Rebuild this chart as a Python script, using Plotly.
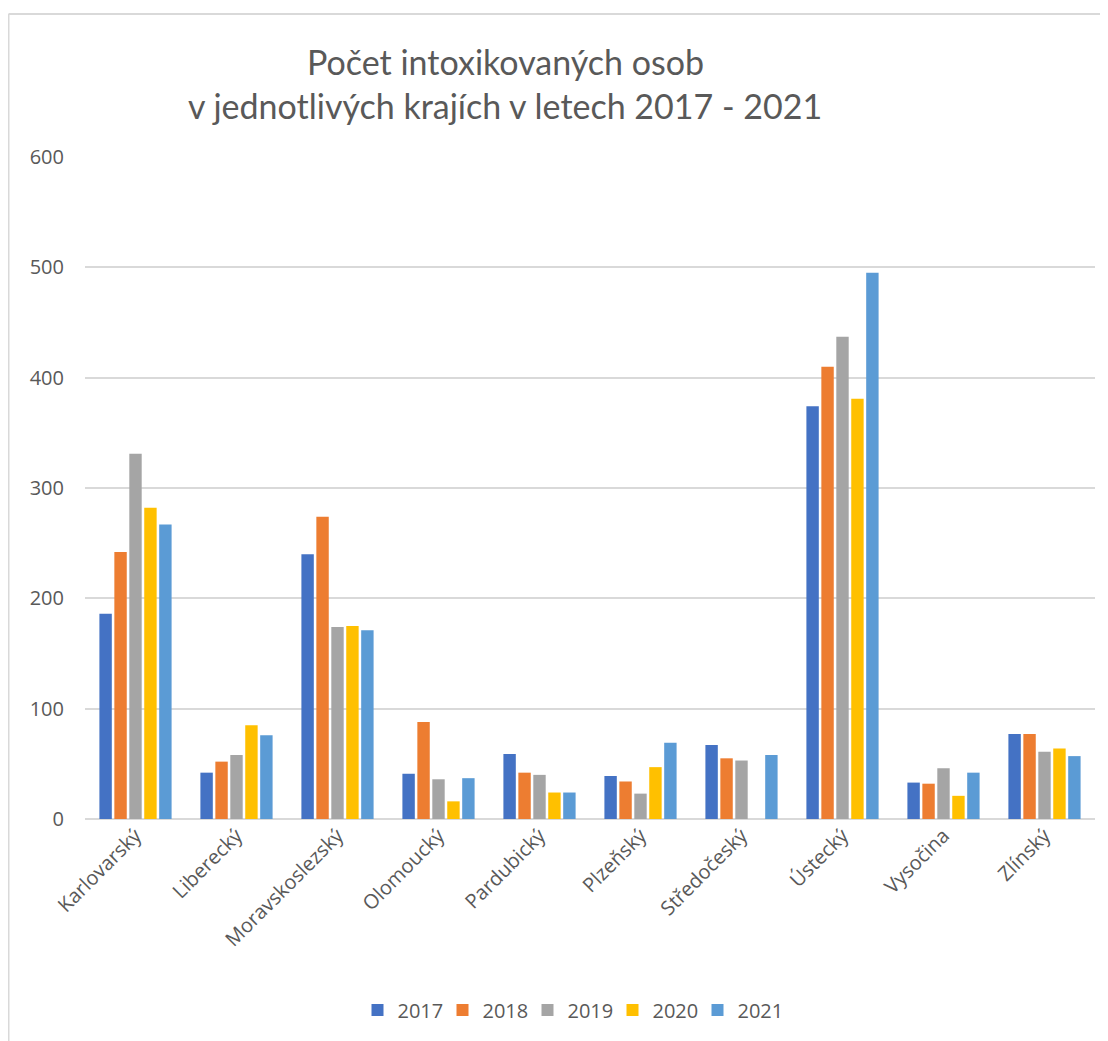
import plotly.graph_objects as go

categories = ["Karlovarský", "Liberecký", "Moravskoslezský", "Olomoucký", "Pardubický",
              "Plzeňský", "Středočeský", "Ústecký", "Vysočina", "Zlínský"]
years = ["2017", "2018", "2019", "2020", "2021"]
v2017 = [186, 42, 240, 41, 59, 39, 67, 374, 33, 77]
v2018 = [242, 52, 274, 88, 42, 34, 55, 410, 32, 77]
v2019 = [331, 58, 174, 36, 40, 23, 53, 437, 46, 61]
v2020 = [282, 85, 175, 16, 24, 47, 0, 381, 21, 64]
v2021 = [267, 76, 171, 37, 24, 69, 58, 495, 42, 57]
colors = ["#4472C4", "#ED7D31", "#A5A5A5", "#FFC000", "#5B9BD5"]
title_lines = ["Počet intoxikovaných osob", "v jednotlivých krajích v letech 2017 - 2021"]

series = [v2017, v2018, v2019, v2020, v2021]

fig = go.Figure()
for name, vals, col in zip(years, series, colors):
    fig.add_trace(go.Bar(x=categories, y=vals, name=name, marker=dict(color=col, line=dict(width=0))))

OFF = 8  # page body offset
W, H = 1108 - OFF, 1041 - OFF
# target pixel coords in the window
PL, PR, PT, PB = 85, 1095, 157, 819
L, R, T, B = PL - OFF, 1108 - PR, PT - OFF, 1041 - PB
pw, ph = PR - PL, PB - PT

def px2paper_x(px):
    return (px - PL) / pw

def py2paper_y(py):
    return (PB - py) / ph

fig.update_layout(
    width=W, height=H,
    margin=dict(l=L, r=R, t=T, b=B),
    paper_bgcolor="white", plot_bgcolor="white",
    barmode="group", bargap=0.26, bargroupgap=0.17,
    font=dict(family="Open Sans", color="#595959"),
    showlegend=True,
    legend=dict(orientation="h", x=px2paper_x(570), xanchor="center", y=py2paper_y(1010), yanchor="middle",
                font=dict(size=20, color="#595959"), traceorder="normal",
                entrywidth=40, entrywidthmode="pixels"),
    xaxis=dict(tickangle=-45, tickfont=dict(size=20, color="#595959"), showgrid=False,
               showline=False, ticks="", zeroline=False),
    yaxis=dict(range=[0, 600], dtick=100, tickfont=dict(size=20, color="#595959"),
               gridcolor="#d9d9d9", gridwidth=1.5, zeroline=True, zerolinecolor="#d9d9d9",
               zerolinewidth=1.5, showline=False, ticks="", ticklabelstandoff=20),
)

title_y = [62, 105]
for txt, yy in zip(title_lines, title_y):
    fig.add_annotation(text=txt, xref="paper", yref="paper", x=px2paper_x(505), y=py2paper_y(yy),
                       xanchor="center", yanchor="middle", showarrow=False,
                       font=dict(family="Lato", size=34, color="#595959"))

# outer frame (left and top edges)
fig.add_shape(type="line", xref="paper", yref="paper",
              x0=px2paper_x(8.5), x1=px2paper_x(8.5), y0=py2paper_y(1045), y1=py2paper_y(14),
              line=dict(color="#d9d9d9", width=2))
fig.add_shape(type="line", xref="paper", yref="paper",
              x0=px2paper_x(8.5), x1=px2paper_x(1110), y0=py2paper_y(14), y1=py2paper_y(14),
              line=dict(color="#d9d9d9", width=2))

fig.write_html("out.html")
